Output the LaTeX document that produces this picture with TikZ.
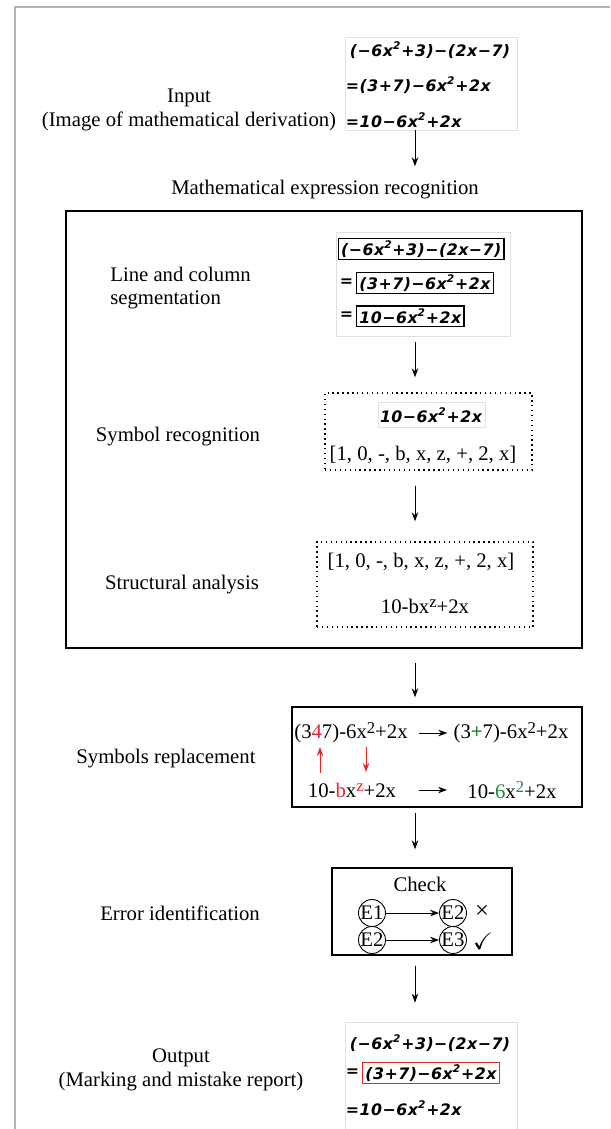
\documentclass[tikz,border=0pt]{standalone}
\usepackage{amssymb}
\usepackage{fontspec}
\setmainfont{Liberation Serif}
\newfontfamily\handfont{DejaVu Sans}[LetterSpace=3]
\usetikzlibrary{arrows.meta, positioning, fit}

\definecolor{markred}{RGB}{232,40,40}
\definecolor{okgreen}{RGB}{25,140,55}

% handwritten square, raised exponents
\newcommand{\hwsq}{\textsuperscript{\bfseries 2}}
\newcommand{\sups}[1]{\raisebox{0.55ex}{\fontsize{9.5}{10}\selectfont #1}}

\begin{document}
\begin{tikzpicture}[x=0.02cm, y=-0.02cm,
  lbl/.style={font=\fontsize{11.8}{13.6}\selectfont, inner sep=0pt},
  hw/.style={font=\handfont\bfseries\itshape\fontsize{9}{10}\selectfont, inner sep=1.5pt, anchor=west},
  hwbox/.style={draw=black, line width=0.6pt},
  imgframe/.style={draw=black!12, line width=0.4pt, inner sep=0pt},
  dotbox/.style={draw, dotted, line width=0.8pt, inner sep=0pt},
  stagebox/.style={draw, line width=0.8pt, inner sep=0pt},
  flow/.style={-{Stealth[length=1.8mm,width=1.3mm]}, line width=0.5pt},
  ent/.style={draw, circle, minimum size=0.54cm, inner sep=0pt, line width=0.5pt,
    font=\fontsize{11.8}{13.6}\selectfont}]
  \useasboundingbox (0,0) rectangle (610,1129);
  \draw[black!30, line width=0.8pt] (15,1129) -- (15,7) -- (610,7);
  \coordinate (axis) at (415,0);

  % Input
  \node[lbl, align=center] (input) at (189,110) {Input\\(Image of mathematical derivation)};
  \node[imgframe, fit={(345,37) (517,130)}] (inimg) {};
  \node[hw] (in1) at (347,50) {(−6x\hwsq+3)−(2x−7)};
  \node[hw] (in2) at (343,85) {=(3+7)−6x\hwsq+2x};
  \node[hw] (in3) at (343,120) {=10−6x\hwsq+2x};

  % Mathematical expression recognition
  \node[lbl] (mer) at (325,190) {Mathematical expression recognition};
  \node[draw, line width=1.1pt, inner sep=0pt, fit={(66,211) (582,648)}] (merbox) {};

  \node[lbl, align=left, anchor=west] (seglbl) at (110,288) {Line and column\\segmentation};
  \node[imgframe, fit={(336,232) (510,336)}] (segimg) {};
  \node[hw, hwbox] (s1) at (338,249) {(−6x\hwsq+3)−(2x−7)};
  \node[hw] (s2eq) at (337,283) {=};
  \node[hw, hwbox, right=0pt of s2eq] (s2) {(3+7)−6x\hwsq+2x};
  \node[hw] (s3eq) at (337,316) {=};
  \node[hw, hwbox, right=0pt of s3eq] (s3) {10−6x\hwsq+2x};

  \node[lbl] (symlbl) at (178,437) {Symbol recognition};
  \node[dotbox, fit={(325,393) (532,470)}] (symbox) {};
  \node[imgframe, fit={(378,402) (485,427)}] (symimg) {};
  \node[hw, anchor=center] (sym1) at (431,415) {10−6x\hwsq+2x};
  \node[lbl] (sym2) at (423,455) {[1, 0, -, b, x, z, +, 2, x]};

  \node[lbl] (strlbl) at (182,585) {Structural analysis};
  \node[dotbox, fit={(317,542) (533,627)}] (strbox) {};
  \node[lbl] (str1) at (421,562) {[1, 0, -, b, x, z, +, 2, x]};
  \node[lbl] (str2) at (425,606) {10-bx\sups{z}+2x};

  % Symbols replacement
  \node[lbl] (replbl) at (166,759) {Symbols replacement};
  \node[stagebox, fit={(292,707) (582,807)}] (repbox) {};
  \node[lbl] (r1) at (351,733) {(3\textcolor{markred}{4}7)-6x\sups{2}+2x};
  \node[lbl] (r2) at (511,733) {(3\textcolor{okgreen}{\textbf{+}}7)-6x\sups{2}+2x};
  \node[lbl] (r3) at (352,790) {10-\textcolor{markred}{b}x\sups{\textcolor{markred}{z}}+2x};
  \node[lbl] (r4) at (512,790) {10-\textcolor{okgreen}{6}x\sups{\textcolor{okgreen}{2}}+2x};
  \draw[flow, shorten <=0.22cm, shorten >=0.12cm] (r1.east) -- (r2.west);
  \draw[flow, shorten <=0.46cm, shorten >=0.4cm] (r3.east) -- (r4.west);
  \coordinate (up0) at (320,773);
  \coordinate (up1) at (320,747);
  \coordinate (dn0) at (366,747);
  \coordinate (dn1) at (366,772);
  \draw[flow, markred] (up0) -- (up1);
  \draw[flow, markred] (dn0) -- (dn1);

  % Error identification
  \node[lbl] (errlbl) at (180,913) {Error identification};
  \node[stagebox, fit={(332,868) (512,955)}] (chkbox) {};
  \node[lbl] (chk) at (420,884) {Check};
  \node[ent] (e1) at (372,913) {E1};
  \node[ent] (e2) at (453,913) {E2};
  \node[ent] (e2b) at (372,940) {E2};
  \node[ent] (e3) at (453,940) {E3};
  \draw[flow] (e1) -- (e2);
  \draw[flow] (e2b) -- (e3);
  \node[lbl, font=\fontsize{14}{14}\selectfont] (cross) at (482,912) {×};
  \node[inner sep=0pt] (tick) at (483,941) {\scalebox{1.35}{$\checkmark$}};

  % Output
  \node[lbl, align=center] (output) at (181,1070) {Output\\(Marking and mistake report)};
  \node[imgframe, fit={(345,1022) (517,1129)}] (outimg) {};
  \node[hw] (o1) at (347,1043) {(−6x\hwsq+3)−(2x−7)};
  \node[hw] (o2eq) at (343,1073) {=};
  \node[hw, draw=markred, line width=0.6pt, right=0pt of o2eq] (o2) {(3+7)−6x\hwsq+2x};
  \node[hw] (o3) at (343,1108) {=10−6x\hwsq+2x};

  % Flow between stages
  \draw[flow, shorten >=0.28cm] (axis |- inimg.south) -- (axis |- mer.north);
  \draw[flow, shorten <=0.12cm, shorten >=0.3cm] (axis |- segimg.south) -- (axis |- symbox.north);
  \draw[flow, shorten <=0.3cm, shorten >=0.4cm] (axis |- symbox.south) -- (axis |- strbox.north);
  \draw[flow, shorten <=0.28cm, shorten >=0.18cm] (axis |- merbox.south) -- (axis |- repbox.north);
  \draw[flow, shorten <=0.1cm, shorten >=0.36cm] (axis |- repbox.south) -- (axis |- chkbox.north);
  \draw[flow, shorten <=0.2cm, shorten >=0.38cm] (axis |- chkbox.south) -- (axis |- outimg.north);
\end{tikzpicture}
\end{document}
